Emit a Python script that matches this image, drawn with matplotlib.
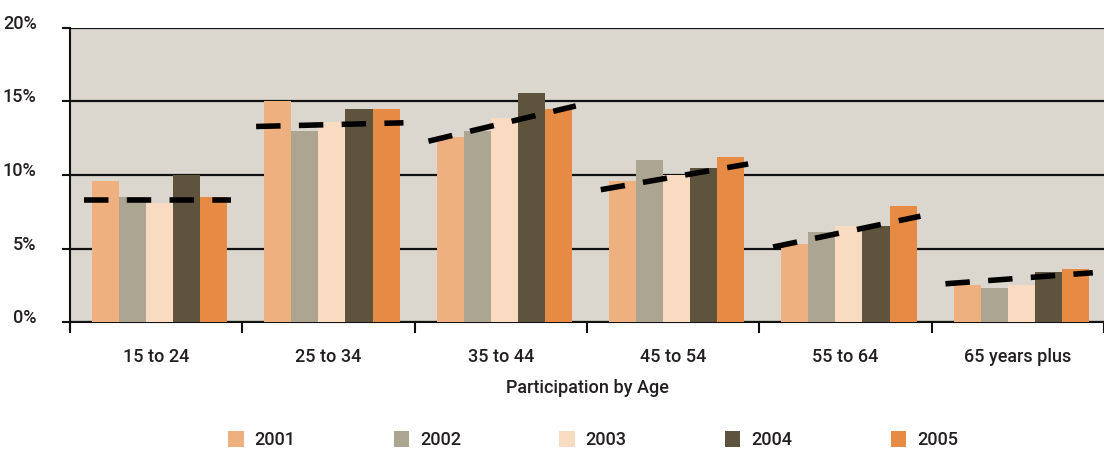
import matplotlib
matplotlib.use("Agg")
import matplotlib.pyplot as plt
import matplotlib.transforms as mtransforms
from matplotlib.patches import Patch
import numpy as np

plt.rcParams['font.family'] = ['Roboto', 'DejaVu Sans']
plt.rcParams['font.weight'] = 'medium'

age_groups = ['15 to 24', '25 to 34', '35 to 44', '45 to 54', '55 to 64', '65 years plus']
years = ['2001', '2002', '2003', '2004', '2005']

# participation share (%) per year, one list per year
p2001 = [9.6, 15.0, 12.6, 9.6, 5.3, 2.5]
p2002 = [8.5, 13.0, 13.0, 11.0, 6.1, 2.3]
p2003 = [8.1, 13.6, 13.9, 10.0, 6.5, 2.5]
p2004 = [10.0, 14.5, 15.6, 10.5, 6.5, 3.4]
p2005 = [8.5, 14.5, 14.5, 11.2, 7.9, 3.6]

# trend line start / end value for each age group
trend_start = [8.3, 13.3, 12.3, 9.0, 5.1, 2.6]
trend_end = [8.3, 13.55, 14.7, 10.75, 7.2, 3.35]

colors = ['#efb07f', '#aca592', '#f8dbc0', '#5e543e', '#e78a44']
bg = '#dbd7cf'
txt = '#231f20'

fig = plt.figure(figsize=(11.04, 4.5), dpi=100)
ax = fig.add_axes([70 / 1104, 128 / 450, 1034 / 1104, 294 / 450])
ax.set_facecolor(bg)

x = np.arange(len(age_groups))
w = 0.157
series = [p2001, p2002, p2003, p2004, p2005]
for i, vals in enumerate(series):
    ax.bar(x + 0.02 + (i - 2) * w, vals, width=w, color=colors[i], zorder=3,
           linewidth=0)

# dashed trend across each group of bars
for k in range(len(age_groups)):
    ax.plot([x[k] - 0.42, x[k] + 0.435], [trend_start[k], trend_end[k]],
            color='black', linewidth=4.0, linestyle=(0, (4.4, 3.3)),
            solid_capstyle='butt', dash_capstyle='butt', zorder=4)

ax.set_xlim(-0.5, 5.467)
ax.set_ylim(0, 20)

# gridlines
ax.set_yticks([0, 5, 10, 15, 20])
ax.set_yticklabels(['0%', '5%', '10%', '15%', '20%'])
ax.yaxis.grid(True, color='#111111', linewidth=1.6, zorder=1)
ax.set_axisbelow(True)
ax.tick_params(axis='y', length=6, width=1.5, pad=18, labelsize=13,
               labelcolor=txt, color='#111111')
offset = mtransforms.ScaledTranslation(0, 6 / 100, fig.dpi_scale_trans)
for lab in ax.get_yticklabels():
    lab.set_transform(lab.get_transform() + offset)

# category labels centred, tick marks on group boundaries
ax.set_xticks(np.arange(-0.5, 6.0, 1.0))
ax.set_xticklabels([])
ax.set_xticks(x, minor=True)
ax.set_xticklabels(age_groups, minor=True)
ax.tick_params(axis='x', which='major', length=8, width=1.5, color='#111111')
ax.tick_params(axis='x', which='minor', length=0, pad=19, labelsize=13,
               labelcolor=txt)
ax.set_xlabel('Participation by Age', fontsize=13, color=txt, labelpad=9,
              fontweight='medium')

for s in ['top', 'right']:
    ax.spines[s].set_visible(False)
ax.spines['left'].set_linewidth(1.5)
ax.spines['bottom'].set_linewidth(1.5)
ax.spines['left'].set_bounds(-0.5, 20)
ax.spines['left'].set_color('#111111')
ax.spines['bottom'].set_color('#111111')

handles = [Patch(facecolor=c, edgecolor='none') for c in colors]
fig.legend(handles, years, loc='center', bbox_to_anchor=(593 / 1104, 1 - 440 / 450),
           ncol=5, frameon=False, fontsize=13, handlelength=0.85, handleheight=1.0,
           handletextpad=0.6, columnspacing=5.45, labelcolor=txt)

fig.savefig('out.png', dpi=100)
